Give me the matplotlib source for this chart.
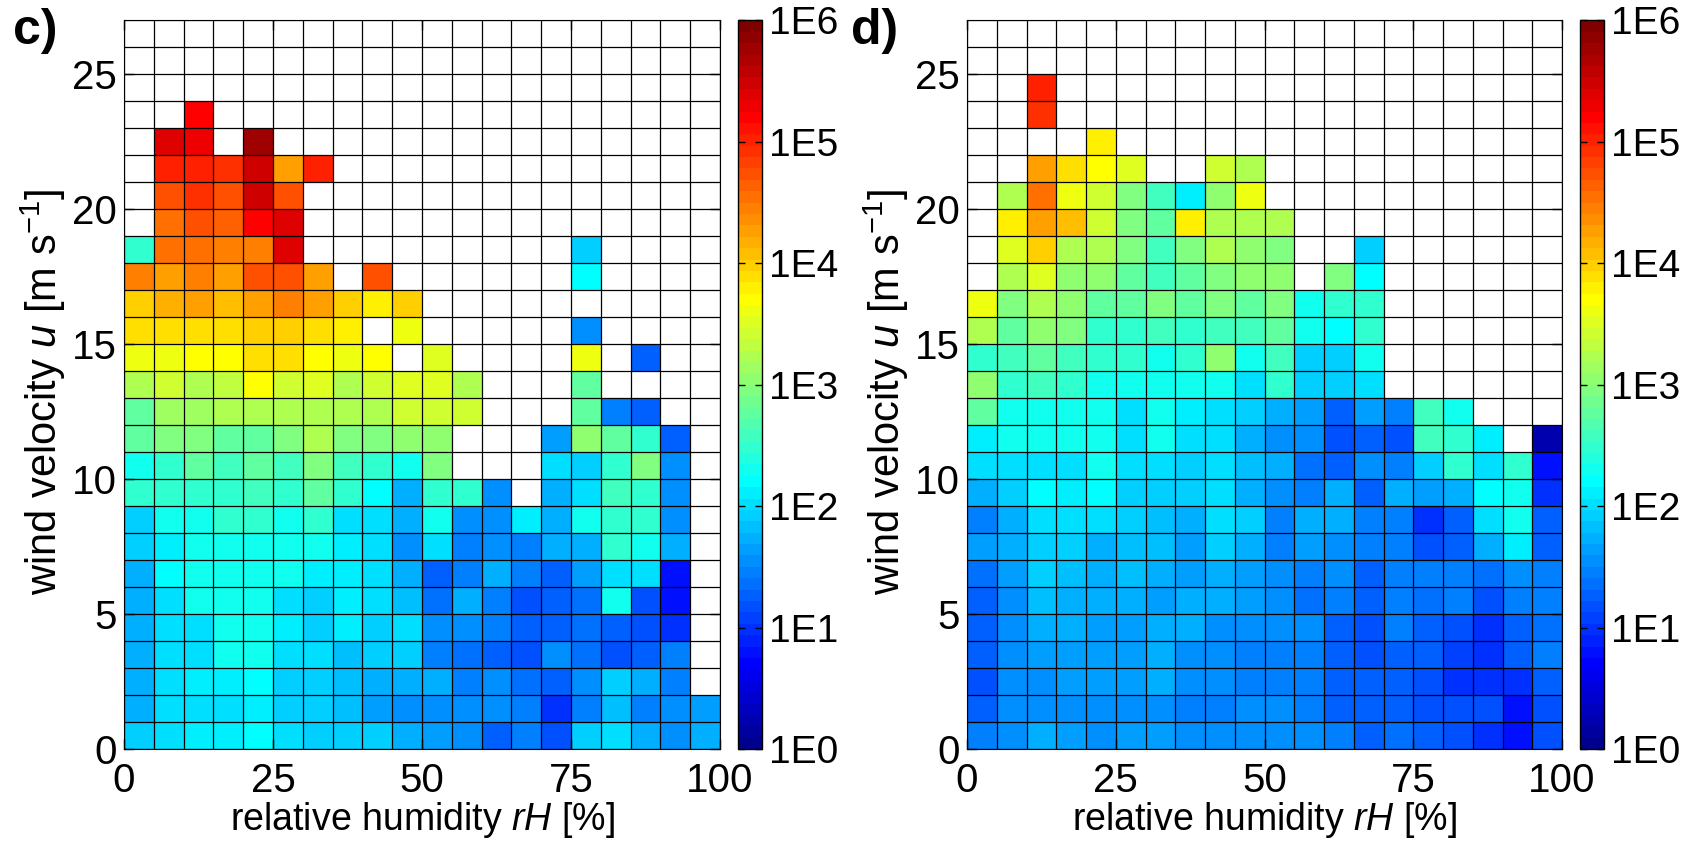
import numpy as np
import matplotlib
matplotlib.use('Agg')
import matplotlib.pyplot as plt
from matplotlib.colors import ListedColormap, Normalize

plt.rcParams['font.family'] = 'Liberation Sans'
plt.rcParams['mathtext.fontset'] = 'custom'
plt.rcParams['mathtext.rm'] = 'Liberation Sans'
plt.rcParams['mathtext.it'] = 'Liberation Sans:italic'
plt.rcParams['font.size'] = 27

nan = np.nan

# bin edges: relative humidity [%] and wind velocity [m/s]
rh_edges = np.arange(0, 105, 5)
u_edges = np.arange(0, 28, 1)

x_ticks = [0, 25, 50, 75, 100]
y_ticks = [0, 5, 10, 15, 20, 25]
cbar_labels = ['1E0', '1E1', '1E2', '1E3', '1E4', '1E5', '1E6']

# log10 of counts per bin, rows listed from top (u = 26-27) down to u = 0-1
c_log = [
    [nan] * 20,
    [nan] * 20,
    [nan] * 20,
    [nan, nan, 5.2] + [nan] * 17,
    [nan, 5.39, 5.25, nan, 5.75] + [nan] * 15,
    [nan, 5.06, 5.06, 4.88, 5.48, 4.3, 5.06] + [nan] * 13,
    [nan, 4.78, 4.88, 4.69, 5.48, 4.78] + [nan] * 14,
    [nan, 4.5, 4.69, 4.65, 5.16, 5.39] + [nan] * 14,
    [2.44, 4.5, 4.5, 4.45, 4.45, 5.39] + [nan] * 9 + [1.95] + [nan] * 4,
    [4.41, 4.22, 4.41, 4.22, 4.78, 4.69, 4.22, nan, 4.69] + [nan] * 6 + [2.16] + [nan] * 4,
    [3.94, 4.13, 4.22, 4.06, 4.31, 4.45, 4.22, 3.98, 3.75, 3.94] + [nan] * 10,
    [3.85, 3.85, 3.88, 3.88, 4.03, 4.03, 3.88, 3.75, nan, 3.57] + [nan] * 5 + [1.59] + [nan] * 4,
    [3.57, 3.57, 3.66, 3.66, 3.85, 3.85, 3.66, 3.57, 3.66, nan, 3.47] + [nan] * 4 + [3.57, nan, 1.22, nan, nan],
    [3.28, 3.38, 3.28, 3.3, 3.66, 3.4, 3.47, 3.28, 3.38, 3.47, 3.47, 3.28, nan, nan, nan, 2.81] + [nan] * 4,
    [2.81, 3.15, 3.15, 3.19, 3.28, 3.19, 3.28, 3.19, 3.19, 3.38, 3.38, 3.38, nan, nan, nan, 2.81, 1.41, 1.31, nan, nan],
    [2.72, 2.91, 2.91, 2.81, 2.81, 2.91, 3.19, 2.91, 2.91, 3.09, 3.0, nan, nan, nan, 1.65, 3.0, 2.72, 2.53, 1.31, nan],
    [2.25, 2.53, 2.72, 2.62, 2.81, 2.62, 2.91, 2.62, 2.53, 2.25, 2.91, nan, nan, nan, 2.02, 1.88, 2.53, 2.91, 1.55, nan],
    [2.44, 2.44, 2.53, 2.53, 2.62, 2.53, 2.72, 2.44, 2.16, 1.78, 2.44, 2.44, 1.55, nan, 1.78, 2.02, 2.62, 2.44, 1.5, nan],
    [1.92, 2.25, 2.34, 2.44, 2.53, 2.34, 2.53, 2.06, 2.06, 1.69, 2.34, 1.59, 1.55, 2.1, 1.78, 2.25, 2.53, 2.53, 1.5, nan],
    [1.88, 2.1, 2.34, 2.34, 2.34, 2.34, 2.25, 2.1, 2.06, 1.55, 2.02, 1.41, 1.5, 1.41, 1.74, 1.78, 2.44, 2.25, 1.78, nan],
    [1.74, 2.16, 2.25, 2.25, 2.25, 2.25, 2.1, 2.1, 2.06, 1.74, 1.31, 1.41, 1.78, 1.45, 1.22, 1.65, 2.02, 1.97, 0.84, nan],
    [1.78, 2.02, 2.25, 2.25, 2.25, 2.06, 1.92, 2.1, 2.06, 1.83, 1.36, 1.69, 1.45, 1.13, 1.22, 1.36, 2.25, 1.17, 0.8, nan],
    [1.69, 2.02, 2.02, 2.25, 2.25, 2.1, 1.88, 2.1, 1.88, 1.97, 1.5, 1.55, 1.45, 1.27, 1.31, 1.36, 1.27, 1.17, 0.98, nan],
    [1.69, 2.02, 2.02, 2.25, 2.25, 1.97, 1.97, 1.83, 1.88, 1.88, 1.41, 1.36, 1.31, 1.17, 1.55, 1.36, 1.17, 1.22, 1.45, nan],
    [1.74, 2.06, 2.1, 2.1, 2.16, 1.92, 1.92, 1.83, 1.78, 1.74, 1.69, 1.41, 1.5, 1.36, 1.22, 1.5, 1.88, 1.78, 1.45, nan],
    [1.74, 2.02, 2.06, 2.06, 2.1, 1.92, 1.92, 1.83, 1.65, 1.59, 1.59, 1.5, 1.55, 1.41, 1.03, 1.41, 1.83, 1.45, 1.55, 1.65],
    [1.88, 2.06, 2.1, 2.1, 2.16, 1.97, 1.88, 1.88, 1.88, 1.69, 1.65, 1.55, 1.22, 1.41, 1.13, 1.88, 2.06, 1.78, 1.55, 1.69],
]

d_log = [
    [nan] * 20,
    [nan] * 20,
    [nan, nan, 5.06] + [nan] * 17,
    [nan, nan, 4.88] + [nan] * 17,
    [nan, nan, nan, nan, 3.75] + [nan] * 15,
    [nan, nan, 4.22, 3.88, 3.66, 3.47, nan, nan, 3.38, 3.19] + [nan] * 10,
    [nan, 3.19, 4.59, 3.57, 3.38, 2.91, 2.62, 2.1, 3.09, 3.57] + [nan] * 10,
    [nan, 3.75, 4.22, 4.06, 3.38, 2.91, 2.72, 3.75, 3.19, 3.28, 3.28] + [nan] * 9,
    [nan, 3.47, 3.94, 3.19, 3.19, 2.91, 2.62, 2.91, 3.19, 3.09, 2.91, nan, nan, 1.95] + [nan] * 6,
    [nan, 3.19, 3.47, 3.09, 3.09, 2.81, 2.62, 2.81, 2.91, 3.0, 3.0, nan, 2.91, 2.16] + [nan] * 6,
    [3.57, 2.91, 3.28, 3.0, 2.81, 2.72, 2.91, 2.72, 2.91, 2.81, 2.91, 2.34, 2.44, 2.53] + [nan] * 6,
    [3.19, 2.81, 3.0, 2.91, 2.53, 2.53, 2.62, 2.53, 2.62, 2.62, 2.72, 2.25, 2.16, 2.44] + [nan] * 6,
    [2.53, 2.62, 2.72, 2.62, 2.53, 2.44, 2.34, 2.44, 3.0, 2.34, 2.62, 1.92, 1.88, 2.25] + [nan] * 6,
    [3.0, 2.53, 2.62, 2.53, 2.34, 2.34, 2.34, 2.25, 2.25, 2.06, 2.44, 1.88, 1.88, 2.06] + [nan] * 6,
    [2.72, 2.34, 2.34, 2.34, 2.25, 2.06, 2.34, 2.1, 2.06, 1.88, 1.69, 1.65, 1.31, 1.65, 1.41, 2.62, 2.34, nan, nan, nan],
    [2.1, 2.25, 2.25, 2.25, 2.25, 1.97, 2.25, 2.02, 2.06, 1.69, 1.55, 1.55, 1.17, 1.27, 1.17, 2.62, 2.44, 2.1, nan, 0.28],
    [1.97, 2.02, 2.06, 2.06, 2.25, 2.06, 2.02, 1.92, 1.97, 1.83, 1.74, 1.36, 1.31, 1.55, 1.45, 1.92, 2.53, 2.02, 2.44, 0.75],
    [1.74, 1.92, 2.16, 2.1, 2.16, 1.92, 1.92, 1.92, 1.97, 1.74, 1.55, 1.45, 1.69, 1.31, 1.74, 1.65, 1.78, 2.16, 2.34, 0.94],
    [1.45, 1.69, 2.02, 2.02, 2.06, 1.92, 1.83, 1.69, 1.97, 1.88, 1.45, 1.69, 1.69, 1.45, 1.41, 1.03, 1.22, 2.02, 2.25, 1.22],
    [1.65, 1.74, 1.92, 1.92, 1.78, 1.83, 1.83, 1.65, 1.88, 1.78, 1.45, 1.65, 1.59, 1.45, 1.45, 1.17, 1.31, 1.78, 2.1, 1.31],
    [1.36, 1.65, 1.92, 1.83, 1.74, 1.83, 1.74, 1.65, 1.69, 1.65, 1.59, 1.45, 1.5, 1.31, 1.45, 1.45, 1.45, 1.36, 1.55, 1.41],
    [1.27, 1.59, 1.83, 1.74, 1.74, 1.74, 1.65, 1.74, 1.69, 1.65, 1.59, 1.36, 1.41, 1.31, 1.41, 1.36, 1.41, 1.13, 1.45, 1.41],
    [1.27, 1.55, 1.74, 1.74, 1.65, 1.65, 1.69, 1.69, 1.59, 1.55, 1.55, 1.5, 1.27, 1.17, 1.41, 1.22, 1.17, 0.98, 1.27, 1.36],
    [1.27, 1.55, 1.65, 1.65, 1.65, 1.65, 1.69, 1.59, 1.55, 1.45, 1.45, 1.41, 1.22, 1.17, 1.22, 1.22, 1.08, 0.98, 1.22, 1.41],
    [1.17, 1.55, 1.59, 1.65, 1.65, 1.65, 1.69, 1.5, 1.5, 1.45, 1.45, 1.41, 1.31, 1.22, 1.27, 1.13, 1.03, 0.98, 0.94, 1.31],
    [1.31, 1.55, 1.59, 1.55, 1.59, 1.5, 1.55, 1.45, 1.45, 1.55, 1.5, 1.41, 1.31, 1.22, 1.31, 1.13, 1.17, 1.13, 0.84, 1.17],
    [1.41, 1.59, 1.74, 1.65, 1.55, 1.65, 1.65, 1.55, 1.5, 1.5, 1.5, 1.55, 1.41, 1.31, 1.36, 1.22, 1.13, 1.03, 0.84, 1.13],
]


def matlab_jet(n=64):
    # same construction as MATLAB's jet(n)
    m = int(np.ceil(n / 4))
    u = np.concatenate([np.arange(1, m + 1) / m, np.ones(m - 1), np.arange(m, 0, -1) / m])
    g = int(np.ceil(m / 2)) - (1 if n % 4 == 1 else 0) + np.arange(1, len(u) + 1)
    r = g + m
    b = g - m
    J = np.zeros((n, 3))
    J[r[r <= n] - 1, 0] = u[r <= n]
    J[g[g <= n] - 1, 1] = u[g <= n]
    J[b[b >= 1] - 1, 2] = u[b >= 1]
    return ListedColormap(J)


cmap = matlab_jet(64)
cmap.set_bad('white')
norm = Normalize(vmin=0, vmax=6)

W, H = 1685.0, 842.0
fig = plt.figure(figsize=(W / 100, H / 100), dpi=100)

# (label, data, axes x-range px, colorbar x-range px, label x px)
panels = [
    ('c)', c_log, [124, 720], [738, 762], 13),
    ('d)', d_log, [967, 1562], [1580, 1604], 851),
]

bottom = 1 - 749 / H
height = (749 - 20.5) / H

for label, vals, ax_x, cb_x, lab_x in panels:
    ax_w = ax_x[1] - ax_x[0]
    ax = fig.add_axes([ax_x[0] / W, bottom, ax_w / W, height])
    z = np.ma.masked_invalid(np.flipud(np.array(vals)))
    mesh = ax.pcolormesh(rh_edges, u_edges, z, cmap=cmap, norm=norm)
    ax.vlines(rh_edges, 0, 27, colors='k', linewidth=0.9)
    ax.hlines(u_edges, 0, 100, colors='k', linewidth=0.9)
    ax.set_xlim(0, 100)
    ax.set_ylim(0, 27)
    ax.set_xticks(x_ticks)
    ax.set_yticks(y_ticks)
    ax.tick_params(direction='in', top=True, right=True, length=7, width=1, labelsize=29)
    ax.tick_params(axis='x', pad=9)
    ax.tick_params(axis='y', pad=5)
    ax.set_xlabel('relative humidity $\\it{rH}$ [%]', fontsize=27, labelpad=0)
    ax.set_ylabel('wind velocity $\\it{u}$ [m s$^{-1}$]', fontsize=30)
    ax.yaxis.set_label_coords(-56 / ax_w, 0.49)

    cax = fig.add_axes([cb_x[0] / W, bottom, (cb_x[1] - cb_x[0]) / W, height])
    cb = fig.colorbar(mesh, cax=cax)
    cb.set_ticks(range(7))
    cb.set_ticklabels(cbar_labels)
    cax.tick_params(direction='in', left=True, right=True, length=5, width=1, pad=5, labelsize=28)
    cb.outline.set_linewidth(1)

    fig.text(lab_x / W, 1 - 8 / H, label, fontsize=36, fontweight='bold', va='top', ha='left')

fig.savefig('out.png', dpi=100)
